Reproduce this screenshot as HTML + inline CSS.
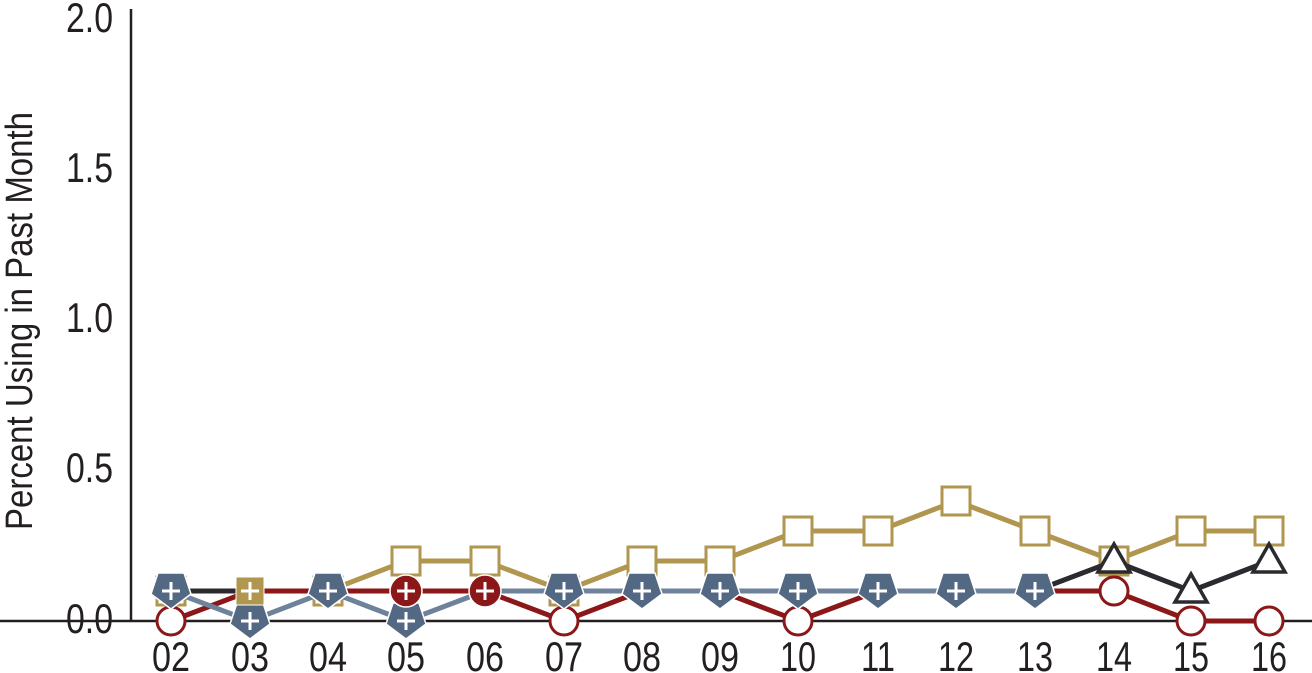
<!DOCTYPE html>
<html><head><meta charset="utf-8"><style>html,body{margin:0;padding:0;background:#fff}svg{display:block}</style></head>
<body>
<svg width="1312" height="673" viewBox="0 0 1312 673" xmlns="http://www.w3.org/2000/svg" font-family="'Liberation Sans',sans-serif" fill="#231f20">
<defs>
<g id="pent"><polygon points="-13,-18 13,-18 20,3 0,18 -20,3" fill="#536882" stroke="#fff" stroke-width="1.5"/><path d="M0,-9V9M-9,0H9" stroke="#fff" stroke-width="3"/></g>
<g id="sq"><rect x="-14" y="-14" width="28" height="28" fill="#fff" stroke="#b0964e" stroke-width="3"/></g>
<g id="cir"><circle r="14" fill="#fff" stroke="#8b1719" stroke-width="3"/></g>
<g id="tri"><polygon points="0,-16 16,12 -16,12" fill="#fff" stroke="#2b2a2e" stroke-width="3.5"/></g>
</defs>
<line x1="131" y1="9" x2="131" y2="622" stroke="#231f20" stroke-width="2.5"/>
<line x1="0" y1="621" x2="1312" y2="621" stroke="#231f20" stroke-width="2.5"/>
<g font-size="42" text-anchor="end">
<text x="113" y="32" textLength="47" lengthAdjust="spacingAndGlyphs">2.0</text>
<text x="113" y="182" textLength="47" lengthAdjust="spacingAndGlyphs">1.5</text>
<text x="113" y="332" textLength="47" lengthAdjust="spacingAndGlyphs">1.0</text>
<text x="113" y="482" textLength="47" lengthAdjust="spacingAndGlyphs">0.5</text>
<text x="113" y="633" textLength="47" lengthAdjust="spacingAndGlyphs">0.0</text>
</g>
<text transform="translate(32,321) rotate(-90)" font-size="38" text-anchor="middle" textLength="418" lengthAdjust="spacingAndGlyphs">Percent Using in Past Month</text>
<g font-size="42" text-anchor="middle">
<text x="171" y="671" textLength="38" lengthAdjust="spacingAndGlyphs">02</text><text x="250" y="671" textLength="38" lengthAdjust="spacingAndGlyphs">03</text><text x="328" y="671" textLength="38" lengthAdjust="spacingAndGlyphs">04</text><text x="406" y="671" textLength="38" lengthAdjust="spacingAndGlyphs">05</text><text x="485" y="671" textLength="38" lengthAdjust="spacingAndGlyphs">06</text><text x="564" y="671" textLength="38" lengthAdjust="spacingAndGlyphs">07</text><text x="642" y="671" textLength="38" lengthAdjust="spacingAndGlyphs">08</text><text x="720" y="671" textLength="38" lengthAdjust="spacingAndGlyphs">09</text><text x="798" y="671" textLength="36" lengthAdjust="spacingAndGlyphs">10</text><text x="878" y="671" textLength="34" lengthAdjust="spacingAndGlyphs">11</text><text x="956" y="671" textLength="36" lengthAdjust="spacingAndGlyphs">12</text><text x="1035" y="671" textLength="36" lengthAdjust="spacingAndGlyphs">13</text><text x="1114" y="671" textLength="36" lengthAdjust="spacingAndGlyphs">14</text><text x="1191" y="671" textLength="36" lengthAdjust="spacingAndGlyphs">15</text><text x="1269" y="671" textLength="36" lengthAdjust="spacingAndGlyphs">16</text>
</g>
<polyline fill="none" stroke="#b0964e" stroke-width="5" points="171,591 250,591 328,591 406,561 485,561 564,591 642,561 720,561 798,531 878,531 956,501 1035,531 1114,561 1191,531 1269,531"/>
<use href="#sq" x="171" y="591"/><use href="#sq" x="328" y="591"/><use href="#sq" x="406" y="561"/><use href="#sq" x="485" y="561"/><use href="#sq" x="564" y="591"/><use href="#sq" x="642" y="561"/><use href="#sq" x="720" y="561"/><use href="#sq" x="798" y="531"/><use href="#sq" x="878" y="531"/><use href="#sq" x="956" y="501"/><use href="#sq" x="1035" y="531"/><use href="#sq" x="1114" y="561"/><use href="#sq" x="1191" y="531"/><use href="#sq" x="1269" y="531"/>
<polyline fill="none" stroke="#2b2a2e" stroke-width="5" points="171,591 250,591 328,591 406,591 485,591 564,591 642,591 720,591 798,591 878,591 956,591 1035,591 1114,561 1191,591 1269,561"/>
<polyline fill="none" stroke="#8b1719" stroke-width="5" points="171,621 250,591 328,591 406,591 485,591 564,621 642,591 720,591 798,621 878,591 956,591 1035,591 1114,591 1191,621 1269,621"/>
<use href="#cir" x="171" y="621"/><use href="#cir" x="564" y="621"/><use href="#cir" x="798" y="621"/><use href="#cir" x="1114" y="591"/><use href="#cir" x="1191" y="621"/><use href="#cir" x="1269" y="621"/>
<use href="#tri" x="1114" y="560"/><use href="#tri" x="1191" y="590"/><use href="#tri" x="1269" y="560"/>
<polyline fill="none" stroke="#6e829c" stroke-width="5" points="171,591 250,621 328,591 406,621 485,591 564,591 642,591 720,591 798,591 878,591 956,591 1035,591"/>
<use href="#pent" x="171" y="591"/><use href="#pent" x="250" y="621"/><use href="#pent" x="328" y="591"/><use href="#pent" x="406" y="621"/><use href="#pent" x="564" y="591"/><use href="#pent" x="642" y="591"/><use href="#pent" x="720" y="591"/><use href="#pent" x="798" y="591"/><use href="#pent" x="878" y="591"/><use href="#pent" x="956" y="591"/><use href="#pent" x="1035" y="591"/>
<rect x="236" y="577" width="28" height="28" fill="#b0964e" stroke="#fff" stroke-width="1"/><path d="M250,582V600M241,591H259" stroke="#fff" stroke-width="3"/>
<circle cx="406" cy="591" r="16" fill="#8b1719" stroke="#fff" stroke-width="1.5"/><path d="M406,582V600M397,591H415" stroke="#fff" stroke-width="3"/>
<circle cx="485" cy="591" r="16" fill="#8b1719" stroke="#fff" stroke-width="1.5"/><path d="M485,582V600M476,591H494" stroke="#fff" stroke-width="3"/>
</svg>
</body></html>
